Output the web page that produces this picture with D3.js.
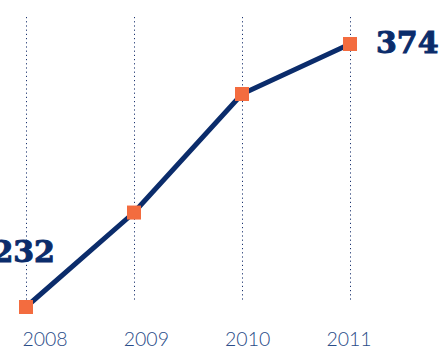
<!DOCTYPE html>
<html>
<head>
<meta charset="utf-8">
<script src="https://cdn.jsdelivr.net/npm/d3@7"></script>
<style>
  body { margin: 0; background: #fff; }
  svg { display: block; }
</style>
</head>
<body>
<div id="chart"></div>
<script>
var years = ["2008", "2009", "2010", "2011"];
var values = [232, 283, 347, 374];

var W = 442, H = 349;
var navy = "#0b2c6b", orange = "#f36c3f";

var svg = d3.select("#chart").append("svg")
    .attr("width", W)
    .attr("height", H);

var x = d3.scalePoint().domain(years).range([26, 350]);
// labels sit on their own slightly tighter spacing
var xLab = d3.scalePoint().domain(years).range([45, 349]);
var y = d3.scaleLinear().domain([232, 374]).range([307, 44]);

var data = years.map(function(d, i) { return { year: d, value: values[i] }; });

// dotted guides
svg.selectAll("line.guide")
    .data(years)
    .enter()
    .append("line")
    .attr("class", "guide")
    .attr("x1", function(d) { return x(d) + 0.5; })
    .attr("x2", function(d) { return x(d) + 0.5; })
    .attr("y1", 17)
    .attr("y2", 301)
    .attr("stroke", "#1d3570")
    .attr("stroke-width", 1)
    .attr("stroke-dasharray", "1.2,3");

// year labels
svg.selectAll("text.year")
    .data(years)
    .enter()
    .append("text")
    .attr("class", "year")
    .attr("x", function(d) { return xLab(d); })
    .attr("y", 346)
    .attr("text-anchor", "middle")
    .attr("font-family", "Lato, 'Open Sans', sans-serif")
    .attr("font-weight", 300)
    .attr("font-size", 19.5)
    .attr("fill", "#2a4c88")
    .text(function(d) { return d; });

var line = d3.line()
    .x(function(d) { return x(d.year); })
    .y(function(d) { return y(d.value); });

svg.append("path")
    .datum(data)
    .attr("d", line)
    .attr("fill", "none")
    .attr("stroke", navy)
    .attr("stroke-width", 5);

svg.selectAll("rect.pt")
    .data(data)
    .enter()
    .append("rect")
    .attr("class", "pt")
    .attr("x", function(d) { return x(d.year) - 7; })
    .attr("y", function(d) { return y(d.value) - 7; })
    .attr("width", 14)
    .attr("height", 14)
    .attr("fill", orange);

// end value labels
var first = data[0], last = data[data.length - 1];
svg.append("text")
    .attr("x", x(first.year) + 29)
    .attr("y", y(first.value) - 45)
    .attr("text-anchor", "end")
    .attr("font-family", "'DejaVu Serif', serif")
    .attr("font-weight", "bold")
    .attr("font-size", 30)
    .attr("fill", navy)
    .attr("stroke", navy)
    .attr("stroke-width", 1)
    .text(first.value);

svg.append("text")
    .attr("x", x(last.year) + 26)
    .attr("y", y(last.value) + 9)
    .attr("text-anchor", "start")
    .attr("font-family", "'DejaVu Serif', serif")
    .attr("font-weight", "bold")
    .attr("font-size", 30)
    .attr("fill", navy)
    .attr("stroke", navy)
    .attr("stroke-width", 1)
    .text(last.value);
</script>
</body>
</html>
